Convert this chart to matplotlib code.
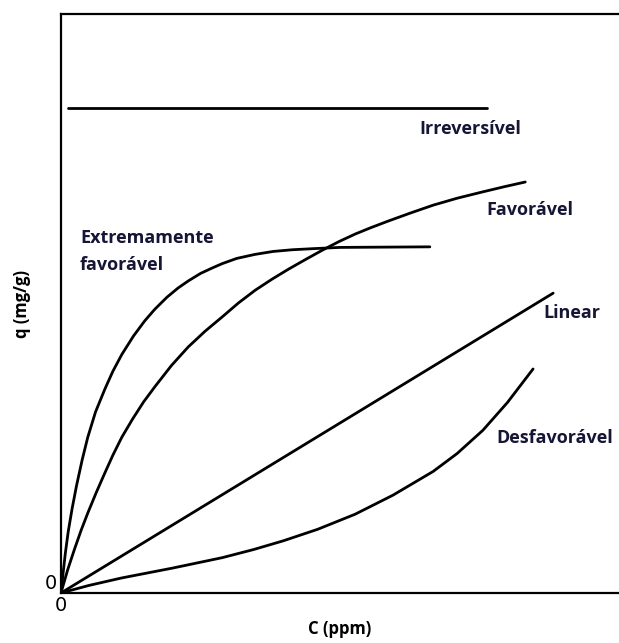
import matplotlib.pyplot as plt

# curves (C in 0..100, q in 0..100)
ext_x = [0, 0.4, 0.8, 1.3, 2.0, 2.8, 3.8, 4.8, 6.2, 7.9, 9.3, 10.9, 13.0, 15.0, 16.8,
         19.0, 21.0, 22.8, 25.0, 27.0, 28.9, 31.5, 34.8, 38.0, 41.5, 45.5, 50.0, 66.1]
ext_y = [0, 3.6, 7.0, 10.6, 14.6, 18.6, 23.0, 26.9, 31.3, 35.3, 38.3, 41.2, 44.4, 47.0, 49.0,
         51.1, 52.7, 53.9, 55.2, 56.1, 56.9, 57.8, 58.5, 59.0, 59.3, 59.5, 59.7, 59.8]

fav_x = [0, 1.2, 2.4, 3.6, 4.8, 6.3, 7.8, 9.3, 10.9, 12.8, 14.8, 16.8, 19.8, 22.8, 25.8, 28.9,
         31.8, 34.8, 37.8, 40.7, 43.8, 46.8, 49.8, 52.7, 55.5, 58.5, 62.5, 66.7, 71.0, 75.6, 79.5, 83.2]
fav_y = [0, 4.0, 7.5, 10.8, 13.8, 17.3, 20.6, 23.8, 26.9, 30.0, 33.0, 35.6, 39.3, 42.5, 45.2, 47.7,
         50.1, 52.3, 54.2, 55.9, 57.6, 59.2, 60.7, 62.0, 63.1, 64.2, 65.6, 67.0, 68.2, 69.3, 70.2, 71.0]

lin_x = [0, 88.2]
lin_y = [0, 51.8]

des_x = [0, 5.0, 10.9, 20.0, 28.9, 34.5, 39.8, 46.0, 52.7, 59.5, 66.7, 71.0, 75.6, 80.0, 84.6]
des_y = [0, 1.3, 2.6, 4.3, 6.1, 7.5, 9.0, 11.0, 13.6, 16.9, 21.0, 24.1, 28.1, 32.9, 38.7]

irr_x = [1.3, 76.3]
irr_y = [83.8, 83.8]

labels = ["Irreversível", "Favorável", "Extremamente\nfavorável", "Linear", "Desfavorável"]
label_x = [64.3, 76.3, 3.4, 86.4, 78.1]
label_y = [80.1, 66.1, 59.0, 48.4, 26.8]

fig = plt.figure(figsize=(6.19, 6.43), dpi=100)
ax = fig.add_axes([0.0985, 0.0778, 0.9015, 0.9002])

lw = 2.0
for xs, ys in [(ext_x, ext_y), (fav_x, fav_y), (lin_x, lin_y), (des_x, des_y), (irr_x, irr_y)]:
    ax.plot(xs, ys, color="black", lw=lw, solid_capstyle="round", solid_joinstyle="round")

for t, x, y in zip(labels, label_x, label_y):
    ax.text(x, y, t, fontsize=13, fontweight="bold", family="Open Sans",
            color="#151535", ha="left", va="center", linespacing=1.6)

ax.set_xlim(0, 100)
ax.set_ylim(0, 100)
ax.spines["right"].set_visible(False)
for s in ["left", "bottom", "top"]:
    ax.spines[s].set_linewidth(1.6)

ax.set_xticks([0])
ax.set_yticks([0])
ax.tick_params(length=0, labelsize=14)
ax.tick_params(axis="x", pad=2)
ax.tick_params(axis="y", pad=3)
for lab in ax.get_yticklabels():
    lab.set_verticalalignment("bottom")

ax.set_xlabel("C (ppm)", fontsize=12, fontweight="bold", family="Open Sans", labelpad=4)
ax.set_ylabel("q (mg/g)", fontsize=12, fontweight="bold", family="Open Sans", labelpad=10)

fig.savefig("out.png", dpi=100)
